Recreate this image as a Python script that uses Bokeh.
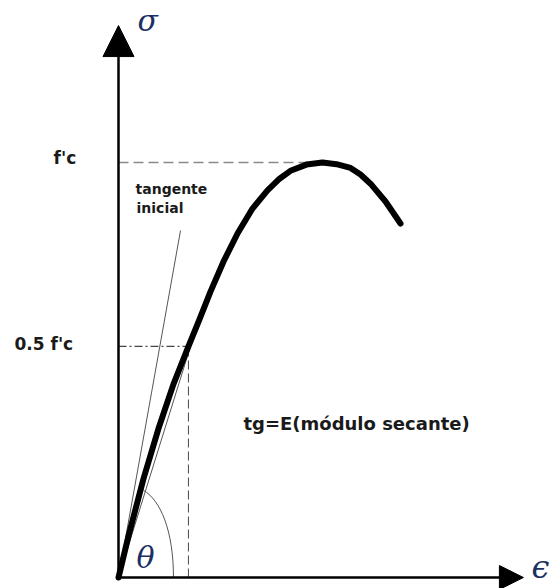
from bokeh.plotting import figure
from bokeh.models import Range1d, Arrow, NormalHead
from bokeh.core.properties import value
from bokeh.embed import file_html
from bokeh.resources import INLINE

# Stress-strain curve of concrete (strain in per mille, stress as fraction of f'c)
strain = [0.0, 0.098, 0.245, 0.392, 0.539, 0.686, 0.794, 0.902, 1.029, 1.167, 1.314,
          1.461, 1.569, 1.686, 1.843, 2.0, 2.137, 2.275, 2.373, 2.471, 2.618, 2.765]
stress = [0.0, 0.100, 0.238, 0.359, 0.466, 0.557, 0.622, 0.689, 0.761, 0.829, 0.889,
          0.933, 0.959, 0.980, 0.995, 1.0, 0.996, 0.987, 0.971, 0.949, 0.906, 0.853]

# Reference stress levels and their labels
fc_level = 1.0
peak_strain = 2.0
secant_point = (0.686, 0.557)
stress_labels = ["f'c", "0.5 f'c"]

# Initial tangent line end point
tangent_end = (0.608, 0.836)

# Axis extents
x_axis_end = 3.97
y_axis_end = 1.330

p = figure(width=554, height=588, output_backend="svg", toolbar_location=None,
           x_range=Range1d(-1.157, 4.275), y_range=Range1d(-0.0265, 1.3904),
           x_axis_type=None, y_axis_type=None, min_border=0,
           outline_line_color=None, background_fill_color="white",
           border_fill_color="white")
p.grid.visible = False

# Guide lines to the peak and to the secant point
p.line([0, peak_strain], [fc_level, fc_level], line_color="#8a8a8a", line_width=1.4, line_dash="10 5")
p.line([0, secant_point[0]], [secant_point[1], secant_point[1]], line_color="#444444",
       line_width=1.1, line_dash="8 3 2 3")
p.line([secant_point[0], secant_point[0]], [0, secant_point[1]], line_color="#555555",
       line_width=1.1, line_dash="9 4")

# Initial tangent and secant lines
p.line([0, tangent_end[0]], [0, tangent_end[1]], line_color="#555555", line_width=1)
p.line([0, secant_point[0] + 0.02], [0, secant_point[1]], line_color="#555555", line_width=1)

# Angle arc theta
p.bezier(x0=[0.539], y0=[0.0], x1=[0.245], y1=[0.210],
         cx0=[0.539], cy0=[0.113], cx1=[0.412], cy1=[0.186],
         line_color="#555555", line_width=1)

# The curve
p.line(strain, stress, line_color="black", line_width=6, line_join="round", line_cap="round")

# Axes with arrow heads
p.add_layout(Arrow(end=NormalHead(size=31, fill_color="black", line_color="black"),
                   x_start=0, y_start=0, x_end=0, y_end=y_axis_end,
                   line_color="black", line_width=2.5))
p.add_layout(Arrow(end=NormalHead(size=24, fill_color="black", line_color="black"),
                   x_start=0, y_start=0, x_end=x_axis_end, y_end=0,
                   line_color="black", line_width=2.5))

# Stress level labels
p.text(x=[-0.637, -1.020], y=[1.012, 0.563], text=stress_labels,
       text_font=value("DejaVu Sans"), text_font_style="bold", text_font_size="17px",
       text_color="#1a1a1a", text_baseline="alphabetic", text_align="left")

# Annotations
p.text(x=[0.167, 0.177], y=[0.937, 0.891], text=["tangente", "inicial"],
       text_font=value("DejaVu Sans"), text_font_style="bold", text_font_size="14px",
       text_color="#1a1a1a", text_baseline="alphabetic", text_align="left")
p.text(x=[1.225], y=[0.371], text=["tg=E(módulo secante)"],
       text_font=value("DejaVu Sans"), text_font_style="bold", text_font_size="18px",
       text_color="#1a1a1a", text_baseline="alphabetic", text_align="left")

# Greek symbols
p.text(x=[0.186, 0.176], y=[1.342, 0.048], text=["σ", "θ"],
       text_font=value("DejaVu Serif"), text_font_style="italic", text_font_size="30px",
       text_color="#1c2f63", text_baseline="alphabetic", text_align="left")
p.text(x=[4.049], y=[0.026], text=["ϵ"],
       text_font=value("DejaVu Serif"), text_font_style="italic", text_font_size="32px",
       text_color="#1c2f63", text_baseline="middle", text_align="left")

open("out.html", "w").write(file_html(p, INLINE))
